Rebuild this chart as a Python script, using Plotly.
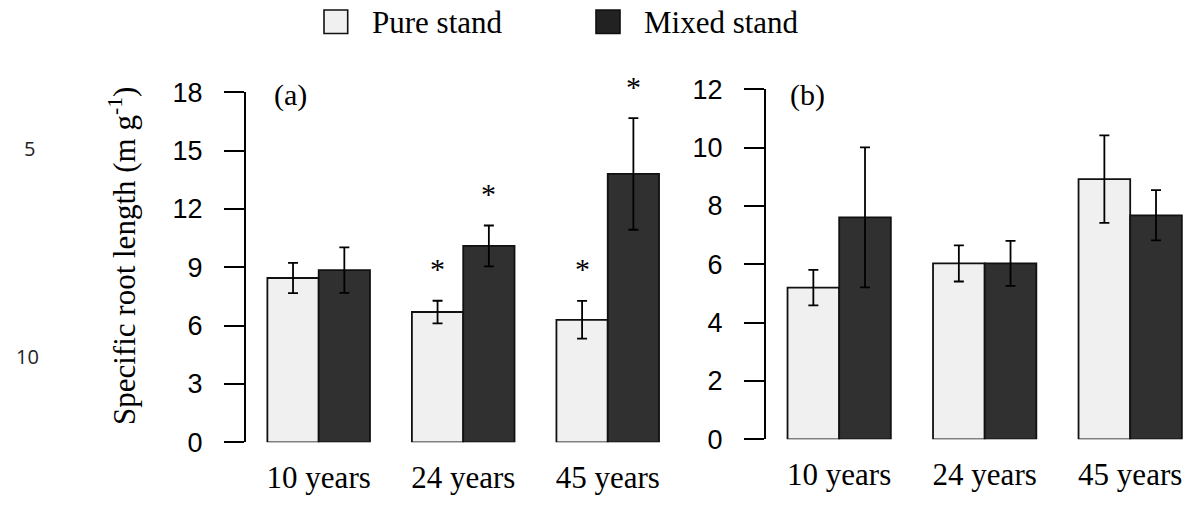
import plotly.graph_objects as go

# ---------------- data ----------------
categories = ["10 years", "24 years", "45 years"]
series_names = ["Pure stand", "Mixed stand"]

a_pure = [8.45, 6.7, 6.3]
a_pure_err = [0.78, 0.58, 0.97]
a_mixed = [8.85, 10.1, 13.8]
a_mixed_err = [1.17, 1.05, 2.87]
a_sig_pure = [False, True, True]
a_sig_mixed = [False, True, True]

b_pure = [5.2, 6.03, 8.92]
b_pure_err = [0.61, 0.62, 1.5]
b_mixed = [7.61, 6.03, 7.68]
b_mixed_err = [2.4, 0.77, 0.86]

a_ticks = [0, 3, 6, 9, 12, 15, 18]
b_ticks = [0, 2, 4, 6, 8, 10, 12]
panel_labels = ["(a)", "(b)"]
y_title = "Specific root length (m g<sup>-1</sup>)"
line_numbers = ["5", "10"]

# ---------------- style ----------------
W, H = 1190, 506
PURE_C = "#f0f0f0"
MIX_C = "#303030"
EDGE = "#111111"
SERIF = "Liberation Serif, Times New Roman, serif"
SANS = "Liberation Sans, Arial, sans-serif"
BARGAP = 0.29


def fx(p):
    return p / W


def fy(p):
    return 1 - p / H


xpos = list(range(len(categories)))
fig = go.Figure()


def add_bars(vals, errs, color, xa, ya):
    fig.add_trace(go.Bar(
        x=xpos, y=vals,
        error_y=dict(type="data", array=errs, visible=True, color="black",
                     thickness=1.8, width=5),
        marker=dict(color=color, line=dict(color=EDGE, width=1.8)),
        xaxis=xa, yaxis=ya, showlegend=False, hoverinfo="skip",
    ))


add_bars(a_pure, a_pure_err, PURE_C, "x", "y")
add_bars(a_mixed, a_mixed_err, MIX_C, "x", "y")
add_bars(b_pure, b_pure_err, PURE_C, "x2", "y2")
add_bars(b_mixed, b_mixed_err, MIX_C, "x2", "y2")

half = (1 - BARGAP) / 4  # offset of a bar centre from its group centre

xaxis_common = dict(tickvals=xpos, ticktext=categories, showline=False,
                    ticks="", showgrid=False, zeroline=False, automargin=False,
                    tickfont=dict(family=SERIF, size=31, color="black"),
                    ticklabelstandoff=14, fixedrange=True)
yaxis_common = dict(showline=True, linecolor="black", linewidth=1.6,
                    ticks="outside", ticklen=20, tickwidth=1.6, tickcolor="black",
                    showgrid=False, zeroline=False, automargin=False,
                    tickfont=dict(family=SANS, size=27, color="black"),
                    ticklabelstandoff=16, fixedrange=True)

fig.update_layout(
    width=W, height=H,
    margin=dict(l=0, r=0, t=0, b=0, pad=0),
    paper_bgcolor="white", plot_bgcolor="white",
    barmode="group", bargap=BARGAP, bargroupgap=0,
    xaxis=dict(domain=[fx(245.7), fx(680)], range=[-0.505, 2.5], anchor="y", **xaxis_common),
    yaxis=dict(domain=[fy(442.3), fy(92.3)], range=[0, 18], tickvals=a_ticks, anchor="x", **yaxis_common),
    xaxis2=dict(domain=[fx(765.7), 1.0], range=[-0.505, 2.411], anchor="y2", **xaxis_common),
    yaxis2=dict(domain=[fy(439.3), fy(89.3)], range=[0, 12], tickvals=b_ticks, anchor="x2", **yaxis_common),
)

annotations = []
star_font = dict(family=SERIF, size=30, color="black")
for i in xpos:
    if a_sig_pure[i]:
        annotations.append(dict(x=i - half, y=a_pure[i] + a_pure_err[i], xref="x", yref="y",
                                text="*", showarrow=False, yanchor="middle", yshift=32,
                                font=star_font))
    if a_sig_mixed[i]:
        annotations.append(dict(x=i + half, y=a_mixed[i] + a_mixed_err[i], xref="x", yref="y",
                                text="*", showarrow=False, yanchor="middle", yshift=32,
                                font=star_font))

# panel labels
annotations.append(dict(x=fx(290), y=fy(95), xref="paper", yref="paper", text=panel_labels[0],
                        showarrow=False, xanchor="center", yanchor="middle",
                        font=dict(family=SERIF, size=30, color="black")))
annotations.append(dict(x=fx(807), y=fy(95), xref="paper", yref="paper", text=panel_labels[1],
                        showarrow=False, xanchor="center", yanchor="middle",
                        font=dict(family=SERIF, size=30, color="black")))

# y title
annotations.append(dict(x=fx(123), y=fy(256), xref="paper", yref="paper", text=y_title,
                        textangle=-90, showarrow=False, xanchor="center", yanchor="middle",
                        font=dict(family=SERIF, size=31, color="black")))

# line numbers from manuscript margin
annotations.append(dict(x=fx(29), y=fy(148), xref="paper", yref="paper", text=line_numbers[0],
                        showarrow=False, xanchor="center", yanchor="middle",
                        font=dict(family="Open Sans, sans-serif", size=20, color="#222")))
annotations.append(dict(x=fx(27), y=fy(356), xref="paper", yref="paper", text=line_numbers[1],
                        showarrow=False, xanchor="center", yanchor="middle",
                        font=dict(family="Open Sans, sans-serif", size=20, color="#222")))

# legend (manual)
legend_sq = [(324, 347.7), (596, 620)]
legend_colors = [PURE_C, "#222222"]
legend_text_x = [370, 642]
shapes = []
for (x0, x1), col, tx, name in zip(legend_sq, legend_colors, legend_text_x, series_names):
    shapes.append(dict(type="rect", xref="paper", yref="paper",
                       x0=fx(x0), x1=fx(x1), y0=fy(33.5), y1=fy(10),
                       fillcolor=col, line=dict(color=EDGE, width=1.6)))
    annotations.append(dict(x=fx(tx), y=fy(23), xref="paper", yref="paper", text=name,
                            showarrow=False, xanchor="left", yanchor="middle",
                            font=dict(family=SERIF, size=31, color="black")))

fig.update_layout(annotations=annotations, shapes=shapes)

fig.write_html("out.html", config={"displayModeBar": False},
               post_script="document.body.style.margin='0px';document.body.style.padding='0px';")
